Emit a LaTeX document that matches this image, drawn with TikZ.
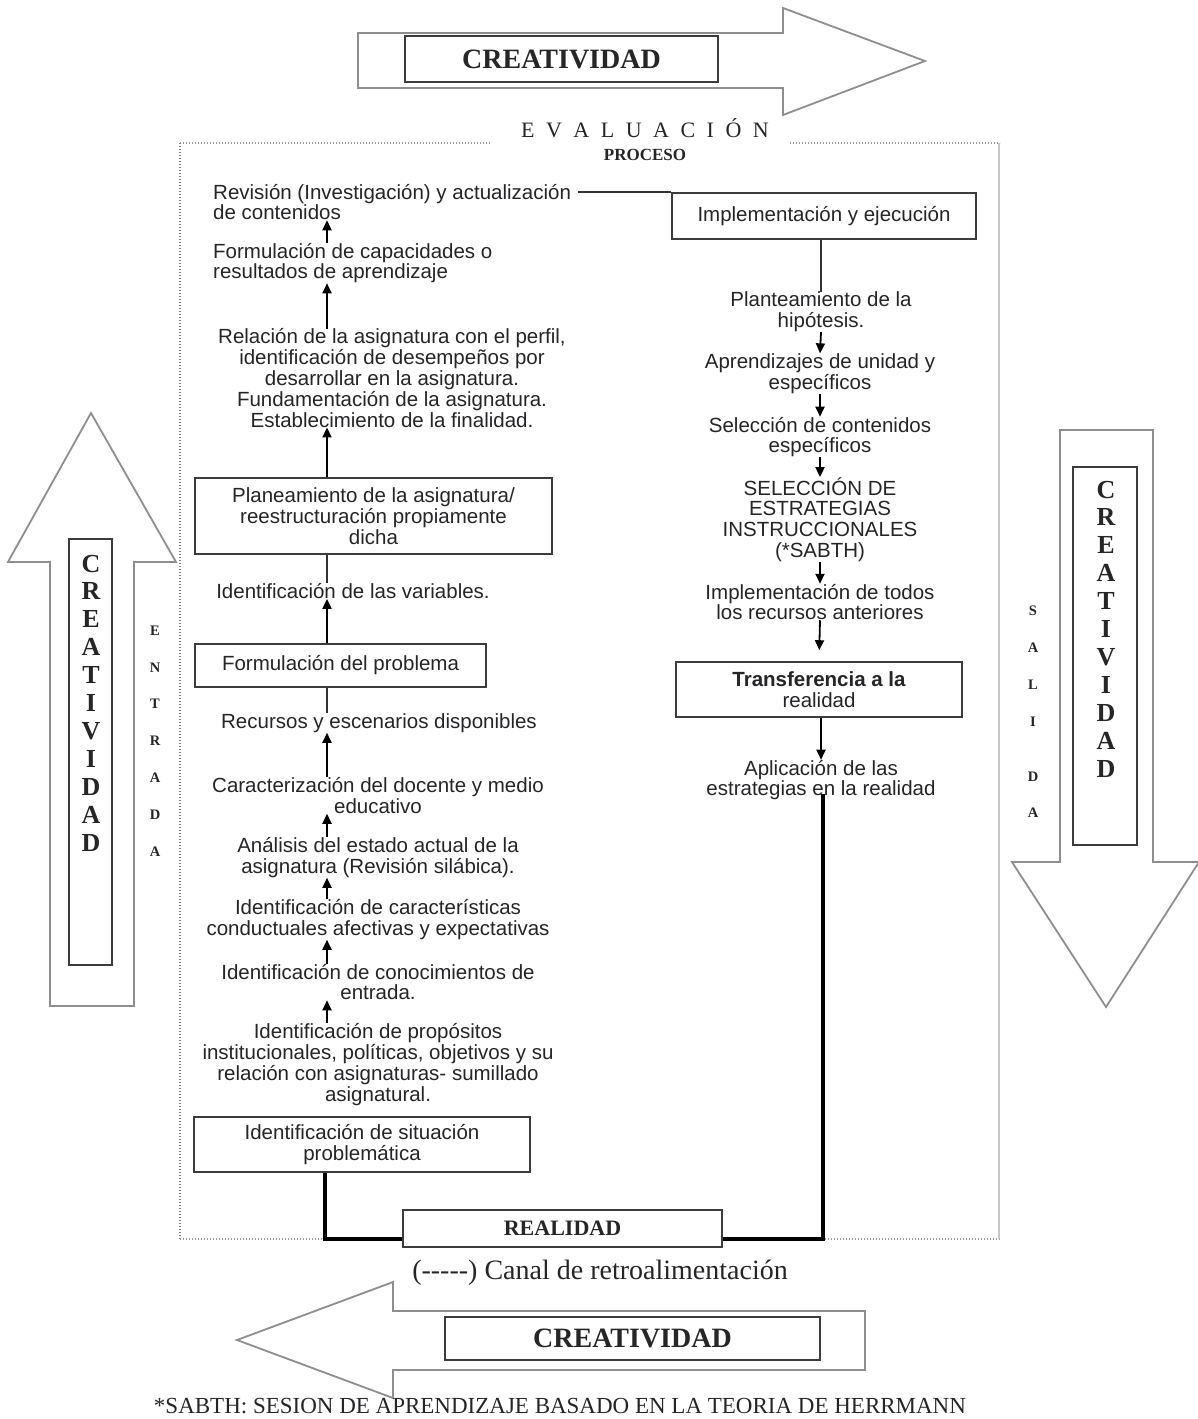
\documentclass[tikz,border=0pt]{standalone}
\usepackage{fontspec}
\setmainfont{Liberation Sans}
\newfontfamily\rmser{Liberation Serif}
\usetikzlibrary{arrows.meta,calc}
\definecolor{ink}{HTML}{252528}
\definecolor{edge}{HTML}{3C3C3C}
\definecolor{bigarrow}{HTML}{8E8E8E}
\definecolor{framec}{HTML}{9A9A9A}
\newcommand\evgap{\hspace{11.5pt}}
\begin{document}
\begin{tikzpicture}[x=1pt,y=-1pt,
  txt/.style={inner sep=0pt, align=center, text=ink, font=\fontsize{20.5}{20.8}\selectfont},
  txtl/.style={txt, align=left},
  bx/.style={draw=edge, line width=1.6pt, inner sep=0pt, align=center, text=ink,
             font=\fontsize{20.5}{20.8}\selectfont},
  up/.style={-{Triangle[length=10pt,width=9pt]}, line width=1.8pt, draw=black},
  conn/.style={line width=1.6pt, draw=black!80},
  fb/.style={line width=4.5pt, draw=black, line join=miter},
  outline/.style={draw=bigarrow, line width=1.8pt, line join=miter, fill=white},
  cbox/.style={draw=edge, line width=1.8pt, inner sep=0pt, text=black!85,
               font=\rmser\bfseries\fontsize{28}{28}\selectfont},
  vlet/.style={inner sep=0pt, align=center, text=black!85,
               font=\rmser\bfseries\fontsize{26}{27.9}\selectfont},
  slet/.style={inner sep=0pt, align=center, text=ink,
               font=\rmser\bfseries\fontsize{14.5}{36.8}\selectfont},
  frm/.style={draw=framec, line width=1.3pt, dash pattern=on 1.2pt off 1.8pt},
]
\useasboundingbox (0,0) rectangle (1197,1419);

% ---------- process frame ----------
\draw[frm] (180,143) -- (490,143);
\draw[frm] (790,143) -- (1000,143);
\draw[frm, draw=gray] (180,143) -- (180,1239);
\draw[frm] (180,1239) -- (1000,1239);
\draw[draw=black!22, line width=1.3pt] (999,143) -- (999,1239);

\node[inner sep=0pt, text=ink, font=\rmser\fontsize{22}{22}\selectfont] (evl) at (645,128)
  {E\evgap V\evgap A\evgap L\evgap U\evgap A\evgap C\evgap I\evgap Ó\evgap N};
\node[inner sep=0pt, text=ink, font=\rmser\bfseries\fontsize{17}{17}\selectfont] (proc) at (645,155) {PROCESO};

% ---------- CREATIVIDAD arrows ----------
\draw[outline] (358,33) -- (783,33) -- (783,8) -- (925,61) -- (783,115) -- (783,88) -- (358,88) -- cycle;
\node[cbox, minimum width=313pt, minimum height=46pt] (crtop) at (561.5,59) {CREATIVIDAD};

\draw[outline] (865,1311) -- (393,1311) -- (393,1282) -- (237,1340) -- (393,1398) -- (393,1370) -- (865,1370) -- cycle;
\node[cbox, minimum width=375pt, minimum height=43pt] (crbot) at (632.5,1338.5) {CREATIVIDAD};

\draw[outline] (50,1006) -- (50,562) -- (8,562) -- (91,413) -- (176,562) -- (134,562) -- (134,1006) -- cycle;
\node[draw=edge, line width=1.8pt, minimum width=43pt, minimum height=426pt, inner sep=0pt] (lbox) at (90.5,752) {};
\node[vlet] (lword) at (91,703) {C\\R\\E\\A\\T\\I\\V\\I\\D\\A\\D};

\draw[outline] (1060,430) -- (1153,430) -- (1153,862) -- (1199,862) -- (1106,1007) -- (1012,862) -- (1060,862) -- cycle;
\node[draw=edge, line width=1.8pt, minimum width=64pt, minimum height=378pt, inner sep=0pt] (rbox) at (1105,656) {};
\node[vlet] (rword) at (1106,629) {C\\R\\E\\A\\T\\I\\V\\I\\D\\A\\D};

\node[slet] (entr) at (155,741) {E\\N\\T\\R\\A\\D\\A};
\node[slet] (sali) at (1033,712) {S\\A\\L\\I\\[18pt]D\\A};

% ---------- left column (input) ----------
\node[txtl, anchor=west] (rev) at (213,202) {Revisión (Investigación) y actualización\\de contenidos};
\node[txtl, anchor=west] (cap) at (213,263) {Formulación de capacidades o\\resultados de aprendizaje};
\node[txt] (rel) at (392,378) {Relación de la asignatura con el perfil,\\identificación de desempeños por\\desarrollar en la asignatura.\\Fundamentación de la asignatura.\\Establecimiento de la finalidad.};
\node[bx, minimum width=357pt, minimum height=76pt] (plan) at (373.5,516) {Planeamiento de la asignatura/\\reestructuración propiamente\\dicha};
\node[txt] (var) at (353,591) {Identificación de las variables.};
\node[bx, minimum width=291pt, minimum height=43pt] (form) at (340.5,665.5) {Formulación del problema};
\node[txt] (recur) at (379,723) {Recursos y escenarios disponibles};
\node[txt] (carac) at (378,795.5) {Caracterización del docente y medio\\educativo};
\node[txt] (anal) at (378,857.5) {Análisis del estado actual de la\\asignatura (Revisión silábica).};
\node[txt] (idcar) at (378,919.5) {Identificación de características\\conductuales afectivas y expectativas};
\node[txt] (conoc) at (378,982) {Identificación de conocimientos de\\entrada.};
\node[txt] (prop) at (378,1064.5) {Identificación de propósitos\\institucionales, políticas, objetivos y su\\relación con asignaturas- sumillado\\asignatural.};
\node[bx, minimum width=336pt, minimum height=55pt] (sit) at (362,1144.5) {Identificación de situación\\problemática};

% ---------- right column (output) ----------
\node[bx, minimum width=304pt, minimum height=46pt] (impl) at (824,216) {Implementación y ejecución};
\node[txt] (plant) at (821,312) {Planteamiento de la\\hipótesis.};
\node[txt] (aprend) at (820,373.5) {Aprendizajes de unidad y\\específicos};
\node[txt] (selc) at (820,437) {Selección de contenidos\\específicos};
\node[txt] (selest) at (820,519.5) {SELECCIÓN DE\\ESTRATEGIAS\\INSTRUCCIONALES\\(*SABTH)};
\node[txt] (implt) at (820,602) {Implementación de todos\\los recursos anteriores};
\node[bx, minimum width=286pt, minimum height=55pt] (trans) at (819,689.5) {\bfseries Transferencia a la\\realidad};
\node[txt] (aplic) at (821,780) {Aplicación de las\\estrategias en la realidad};

% ---------- reality and notes ----------
\node[draw=edge, line width=1.6pt, fill=white, inner sep=0pt, minimum width=319pt, minimum height=37pt,
      text=black!85, font=\rmser\bfseries\fontsize{22}{22}\selectfont] (real) at (562.5,1228.5) {REALIDAD};
\node[inner sep=0pt, text=ink, font=\rmser\fontsize{28}{28}\selectfont] (canal) at (600,1273) {(-----) Canal de retroalimentación};
\node[inner sep=0pt, text=ink, font=\rmser\fontsize{23}{23}\selectfont] (note) at (560,1406) {*SABTH: SESION DE APRENDIZAJE BASADO EN LA TEORIA DE HERRMANN};

% ---------- connectors ----------
\coordinate (axL) at (327,0);
\draw[up] (cap.north -| axL) -- (rev.south -| axL);
\draw[up] (rel.north -| axL) -- (cap.south -| axL);
\draw[up] (plan.north -| axL) -- (rel.south -| axL);
\draw[conn] (plan.south -| axL) -- (var.north -| axL);
\draw[up] (form.north -| axL) -- (var.south -| axL);
\draw[conn] (form.south -| axL) -- (recur.north -| axL);
\draw[up] (carac.north -| axL) -- (recur.south -| axL);
\draw[up] (anal.north -| axL) -- (carac.south -| axL);
\draw[up] (idcar.north -| axL) -- (anal.south -| axL);
\draw[up] (conoc.north -| axL) -- (idcar.south -| axL);
\draw[up] (prop.north -| axL) -- (conoc.south -| axL);

\draw[conn] ([xshift=7pt]rev.east |- impl.north west) -- (impl.north west);
\draw[conn] (impl.south -| plant.north) -- (plant.north);
\draw[up] (plant.south) -- (aprend.north);
\draw[up] (aprend.south) -- (selc.north);
\draw[up] (selc.south) -- (selest.north);
\draw[up] (selest.south) -- (implt.north);
\draw[up, shorten >=11pt] (implt.south) -- (trans.north);
\draw[up] (trans.south -| aplic.north) -- (aplic.north);

\coordinate (fbL) at (325,1239);
\coordinate (fbR) at (823,1239);
\draw[fb] (sit.south -| fbL) -- (fbL) -- (fbL -| real.west);
\draw[fb] ([yshift=6pt]aplic.south -| fbR) -- (fbR) -- (fbR -| real.east);
\end{tikzpicture}
\end{document}
